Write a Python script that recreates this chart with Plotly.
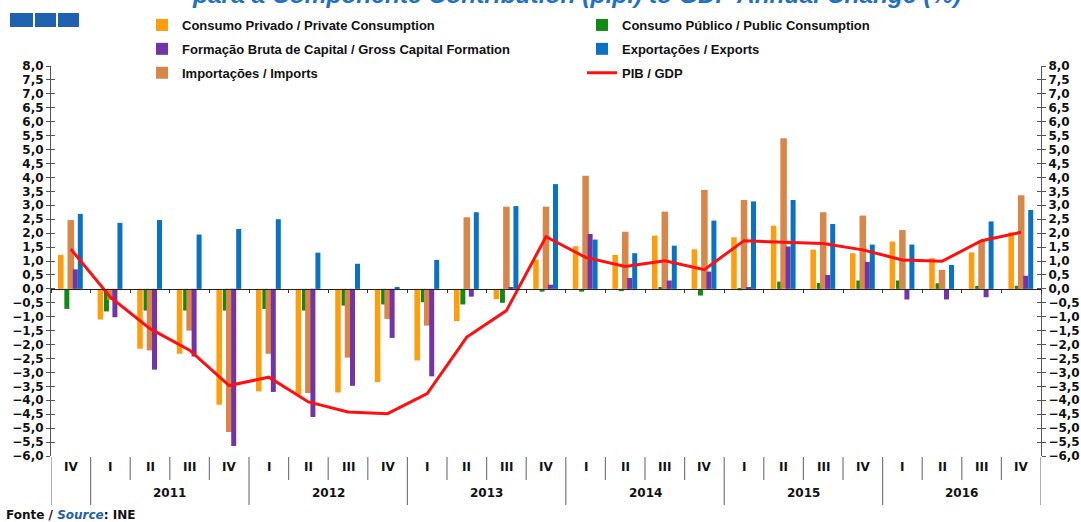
import plotly.graph_objects as go

quarters = ["IV\u200b", "I", "II", "III", "IV", "I", "II", "III", "IV", "I", "II", "III", "IV",
            "I", "II", "III", "IV", "I", "II", "III", "IV", "I", "II", "III", "IV"]
years = [" "] + ["2011"] * 4 + ["2012"] * 4 + ["2013"] * 4 + ["2014"] * 4 + ["2015"] * 4 + ["2016"] * 4

cons_priv = [1.22, -1.10, -2.15, -2.33, -4.16, -3.68, -3.80, -3.72, -3.35, -2.57, -1.16, -0.37, 1.04,
             1.53, 1.22, 1.91, 1.42, 1.85, 2.27, 1.41, 1.28, 1.70, 1.10, 1.31, 2.03]
cons_pub = [-0.72, -0.81, -0.78, -0.78, -0.78, -0.72, -0.78, -0.60, -0.56, -0.48, -0.56, -0.50, -0.10,
            -0.10, -0.08, 0.05, -0.24, -0.05, 0.26, 0.21, 0.30, 0.30, 0.20, 0.11, 0.11]
fbcf = [0.70, -1.02, -2.90, -2.43, -5.64, -3.70, -4.60, -3.48, -1.76, -3.14, -0.28, 0.05, 0.15,
        1.97, 0.39, 0.30, 0.62, 0.05, 1.52, 0.50, 0.97, -0.38, -0.38, -0.30, 0.47]
imports = [2.47, -0.40, -2.21, -1.50, -5.14, -2.33, -3.74, -2.47, -1.08, -1.32, 2.57, 2.95, 2.95,
           4.06, 2.05, 2.77, 3.55, 3.19, 5.41, 2.75, 2.63, 2.11, 0.68, 1.73, 3.36]
exports = [2.69, 2.37, 2.47, 1.95, 2.15, 2.50, 1.30, 0.90, 0.04, 1.04, 2.75, 2.97, 3.76,
           1.77, 1.28, 1.55, 2.45, 3.14, 3.19, 2.33, 1.59, 1.59, 0.86, 2.42, 2.83]
gdp = [1.43, -0.30, -1.43, -2.20, -3.47, -3.17, -4.06, -4.42, -4.48, -3.76, -1.73, -0.78, 1.87,
       1.13, 0.80, 1.01, 0.69, 1.73, 1.67, 1.63, 1.40, 1.04, 0.99, 1.73, 2.03]

names = {
    "cp": "Consumo Privado / Private Consumption",
    "cpub": "Consumo Público / Public Consumption",
    "fbcf": "Formação Bruta de Capital / Gross Capital Formation",
    "exp": "Exportações / Exports",
    "imp": "Importações / Imports",
    "gdp": "PIB / GDP",
}
title_text = "para a Componente Contribution (p.p.) to GDP Annual Change (%)"

x = [years, quarters]
n = len(quarters)
W = 1081
H = 522
L, R, T, B = 51, 40, 66, 66
pw, ph = W - L - R, H - T - B


def px_x(p):
    return (p - L) / pw


def px_y(p):
    return (H - B - p) / ph


fig = go.Figure()

bar_specs = [
    ("cp", cons_priv, "#FF9E0C", -0.253, 0.14, "legend", 1),
    ("cpub", cons_pub, "#138A13", -0.10, 0.126, "legend2", 1),
    ("imp", imports, "#D8874A", 0.0, 0.165, "legend", 3),
    ("fbcf", fbcf, "#7334A8", 0.114, 0.126, "legend", 2),
    ("exp", exports, "#0A72C4", 0.24, 0.126, "legend2", 2),
]
for key, vals, col, ctr, wd, leg, rank in bar_specs:
    fig.add_trace(go.Bar(
        x=x, y=vals, name=names[key], marker=dict(color=col, line=dict(width=0)),
        offset=ctr - wd / 2, width=wd, legend=leg, legendrank=rank, legendgroup=key,
    ))

fig.add_trace(go.Scatter(
    x=x, y=gdp, name=names["gdp"], mode="lines",
    line=dict(color="#FF1010", width=3), legend="legend2", legendrank=3, legendgroup="gdp",
))

# helper empty traces for extra axes
fig.add_trace(go.Scatter(x=[], y=[], xaxis="x2", yaxis="y", showlegend=False))
for ya in ["y2", "y3", "y4"]:
    fig.add_trace(go.Scatter(x=x, y=[None] * n, yaxis=ya, showlegend=False, hoverinfo="skip"))

tickfont = dict(family="DejaVu Sans", size=12, color="#111", weight=700)
yrange = [-6, 8]
ycommon = dict(range=yrange, dtick=0.5, tick0=0, tickformat=".1f", showgrid=False, zeroline=False,
               showline=True, linecolor="#555", linewidth=1, tickcolor="#555", fixedrange=True)

fig.update_layout(
    width=W, height=H,
    margin=dict(l=L, r=R, t=T, b=B, pad=0, autoexpand=False),
    paper_bgcolor="white", plot_bgcolor="white",
    separators=",.",
    barmode="overlay",
    showlegend=True,
    xaxis=dict(
        type="multicategory", showgrid=False, zeroline=False, showline=False,
        showticklabels=False, ticks="", showdividers=False, range=[-0.5, n - 0.5],
    ),
    xaxis2=dict(
        overlaying="x", anchor="free", position=6 / 14, range=[-0.5, n - 0.5],
        tickvals=[i + 0.5 for i in range(-1, n)], ticks="outside", ticklen=3, tickcolor="#333",
        showticklabels=False, showline=True, linecolor="#222", linewidth=1, showgrid=False,
        zeroline=False,
    ),
    yaxis=dict(**ycommon, side="left", ticks="outside", ticklen=4, tickfont=tickfont),
    yaxis3=dict(**ycommon, side="left", overlaying="y", ticks="inside", ticklen=4,
                showticklabels=False),
    yaxis2=dict(**ycommon, side="right", overlaying="y", ticks="outside", ticklen=4,
                tickfont=tickfont),
    yaxis4=dict(**ycommon, side="right", overlaying="y", ticks="inside", ticklen=4,
                showticklabels=False),
    legend=dict(
        x=px_x(142), y=px_y(10), xanchor="left", yanchor="top", orientation="v",
        font=dict(family="Arial", size=13, color="#111", weight=700),
        bgcolor="rgba(0,0,0,0)", itemwidth=30, tracegroupgap=4, traceorder="grouped",
    ),
    legend2=dict(
        x=px_x(582), y=px_y(10), xanchor="left", yanchor="top", orientation="v",
        font=dict(family="Arial", size=13, color="#111", weight=700),
        bgcolor="rgba(0,0,0,0)", itemwidth=30, tracegroupgap=4, traceorder="grouped",
    ),
)

# category labels (quarters / years) and separators under the plot
for i, q in enumerate(quarters):
    fig.add_annotation(xref="x2", yref="paper", x=i, y=px_y(467), text=q.replace("\u200b", ""),
                       showarrow=False, xanchor="center", yanchor="middle", font=tickfont)
groups = []
for i, yv in enumerate(years):
    if groups and groups[-1][0] == yv:
        groups[-1][2] = i
    else:
        groups.append([yv, i, i])
for yv, i0, i1 in groups:
    if yv.strip():
        fig.add_annotation(xref="x2", yref="paper", x=(i0 + i1) / 2, y=px_y(493), text=yv,
                           showarrow=False, xanchor="center", yanchor="middle", font=tickfont)
year_bounds = {g[1] - 0.5 for g in groups} | {groups[-1][2] + 0.5}
for k in range(-1, n):
    b = k + 0.5
    long = b in year_bounds
    fig.add_shape(type="line", xref="x2", yref="paper", x0=b, x1=b,
                  y0=px_y(457), y1=px_y(505 if long else 480),
                  line=dict(color="#7a7a7a", width=1.2))

# decorative squares top-left
for x0, x1 in [(10, 33), (35, 56), (58, 79)]:
    fig.add_shape(type="rect", xref="paper", yref="paper",
                  x0=px_x(x0), x1=px_x(x1), y0=px_y(27), y1=px_y(13),
                  fillcolor="#1F62B0", line=dict(width=0), layer="above")

fig.add_annotation(
    xref="paper", yref="paper", x=px_x(190), y=px_y(10), xanchor="left", yanchor="bottom",
    text="<b><i>" + title_text + "</i></b>",
    showarrow=False, font=dict(family="Arial", size=24.5, color="#1F72C0"),
)

fig.add_annotation(
    xref="paper", yref="paper", x=px_x(4), y=px_y(515), xanchor="left", yanchor="middle",
    text="Fonte / <i><span style='color:#1F5FA8'>Source</span></i>: INE",
    showarrow=False, font=dict(family="DejaVu Sans", size=12, color="#111", weight=700),
)

fig.write_html("out.html", post_script="document.body.style.margin='0';",
               config={"displayModeBar": False})
